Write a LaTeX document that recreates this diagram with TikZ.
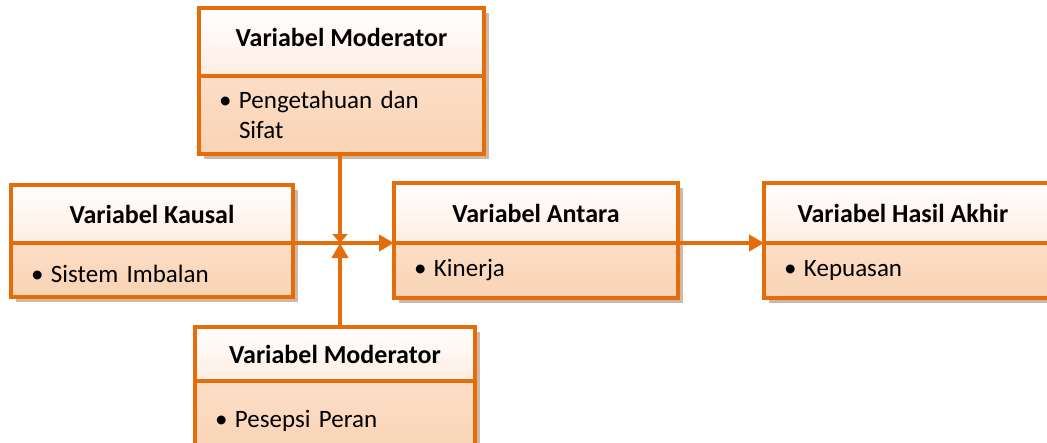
\documentclass[tikz,border=0pt]{standalone}
\usepackage{fontspec}
\setmainfont{Carlito}
\usepackage{xcolor}
\usetikzlibrary{positioning,arrows.meta,backgrounds}

\definecolor{boxline}{HTML}{E46C0A}
\definecolor{headfill}{HTML}{FEEDE2}
\definecolor{itemfill}{HTML}{FAD3B4}
\definecolor{boxshade}{HTML}{CDB9A6}

% bullet with a fixed hanging width
\newcommand{\itm}{\makebox[20pt][l]{\textbullet}}

\begin{document}
\begin{tikzpicture}[x=1pt, y=-1pt, outer sep=0pt,
  headbox/.style={draw=boxline, line width=4pt, top color=white, bottom color=headfill, font=\fontsize{26}{31}\selectfont\bfseries, inner sep=0pt},
  itembox/.style={draw=boxline, line width=4pt, top color=itemfill!75, bottom color=itemfill, font=\fontsize{25}{30}\selectfont, inner xsep=20pt, inner ysep=0pt, align=left},
  link/.style={draw=boxline, line width=4pt},
  >={Triangle[length=15pt, width=16pt]}]

  \useasboundingbox (0,0) rectangle (1047,442);

  % moderator on top
  \node[headbox, minimum width=285pt, minimum height=68pt, text depth=10pt] (modTop) at (341.5,42) {Variabel Moderator};
  \node[itembox, minimum width=285pt, minimum height=78pt, text width=245pt, below=0pt of modTop] (modTop-b) {\itm Pengetahuan dan\\\hspace*{20pt}Sifat};

  % middle row
  \node[headbox, minimum width=282pt, minimum height=58pt] (kausal) at (152,214) {Variabel Kausal};
  \node[itembox, minimum width=282pt, minimum height=54pt, text width=242pt, text height=26pt, below=0pt of kausal] (kausal-b) {\itm Sistem Imbalan};

  \node[headbox, minimum width=284pt, minimum height=60pt] (antara) at (536,213) {Variabel Antara};
  \node[itembox, minimum width=284pt, minimum height=55pt, text width=244pt, below=0pt of antara] (antara-b) {\itm Kinerja};

  \node[headbox, minimum width=306pt, minimum height=60pt] (hasil) at (917,213) {\hspace*{-28pt}Variabel Hasil Akhir};
  \node[itembox, minimum width=306pt, minimum height=55pt, text width=266pt, below=0pt of hasil] (hasil-b) {\itm Kepuasan};

  % moderator below
  \node[headbox, minimum width=280pt, minimum height=54pt] (modBot) at (335,354) {Variabel Moderator};
  \node[itembox, minimum width=280pt, minimum height=80pt, text width=240pt, below=0pt of modBot] (modBot-b) {\itm Pesepsi Peran};

  \begin{scope}[on background layer]
    \foreach \b in {modTop,kausal,antara,hasil,modBot}
      \fill[boxshade] ([shift={(5,5)}]\b.north west) rectangle ([shift={(5,5)}]\b-b.south east);
  \end{scope}

  \coordinate (hub) at (340,243);

  \draw[link,->] (kausal.south east) -- (antara.south west);
  \draw[link,->] (antara.south east) -- (hasil.south west);
  \draw[link,-{Triangle[length=9pt, width=15pt]}] (modTop-b.south -| hub) -- (hub);
  \draw[link,->] (modBot.north -| hub) -- (hub);
\end{tikzpicture}
\end{document}
